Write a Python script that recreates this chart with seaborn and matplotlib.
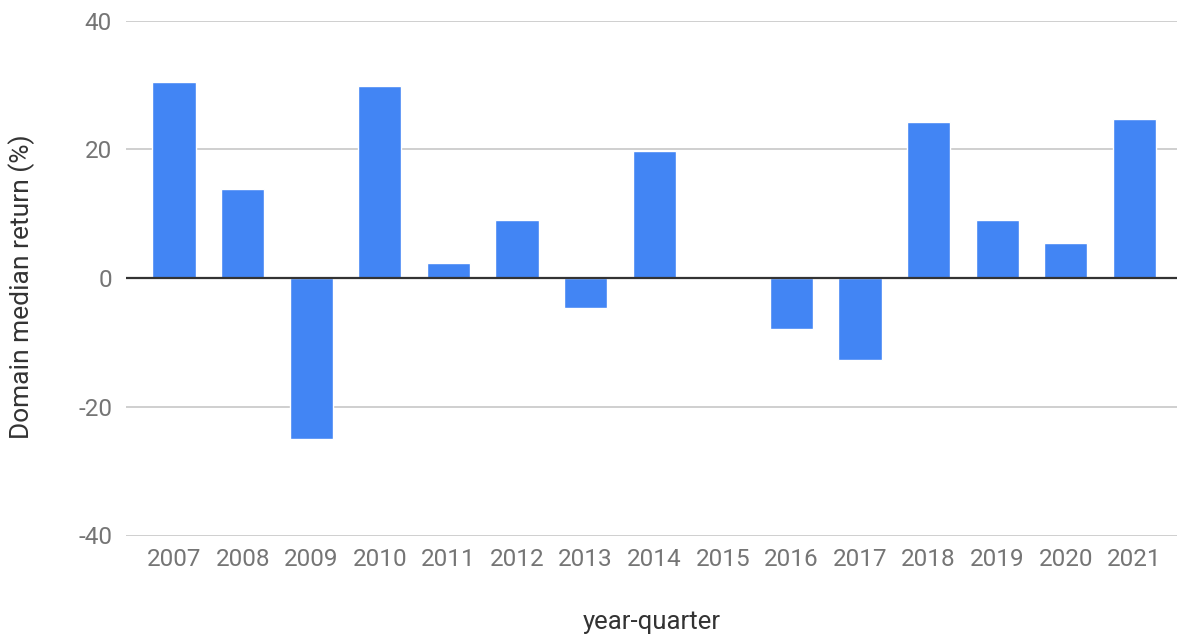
import matplotlib
matplotlib.use("Agg")
import matplotlib.pyplot as plt
import seaborn as sns
import pandas as pd

years = ["2007", "2008", "2009", "2010", "2011", "2012", "2013", "2014",
         "2015", "2016", "2017", "2018", "2019", "2020", "2021"]
returns = [30.5, 13.9, -25.0, 29.8, 2.3, 9.0, -4.7, 19.8,
           0.0, -7.9, -12.8, 24.3, 9.0, 5.5, 24.7]
y_ticks = [-40, -20, 0, 20, 40]
x_label = "year-quarter"
y_label = "Domain median return (%)"

sns.set_theme(style="white")
plt.rcParams["font.family"] = ["Roboto", "DejaVu Sans"]

df = pd.DataFrame({"year": years, "ret": returns})

fig = plt.figure(figsize=(11.77, 6.40), dpi=100)
ax = fig.add_axes([126 / 1177, 1 - 535.5 / 640, 1 - 126 / 1177, (535.5 - 20.5) / 640])

sns.barplot(data=df, x="year", y="ret", color="#4285F4", width=0.63,
            saturation=1, ax=ax, zorder=3)

ax.set_ylim(-40, 40)
ax.set_xlim(-0.70, 14.62)
ax.set_yticks(y_ticks)
ax.set_yticklabels([str(t) for t in y_ticks])
for t in y_ticks:
    if t == 0:
        ax.axhline(t, color="#333333", lw=1.6, zorder=4)
    else:
        ax.axhline(t, color="#cccccc", lw=1.3, zorder=1)

for s in ax.spines.values():
    s.set_visible(False)
ax.tick_params(axis="both", length=0, labelsize=17.5, colors="#757575")
ax.tick_params(axis="y", pad=10)
ax.tick_params(axis="x", pad=9)

ax.set_xlabel(x_label, fontsize=18.5, color="#333333", labelpad=28)
ax.set_ylabel(y_label, fontsize=19, color="#333333")
ax.yaxis.set_label_coords(-91 / 1051, 0.483)

fig.savefig("out.png", dpi=100)
